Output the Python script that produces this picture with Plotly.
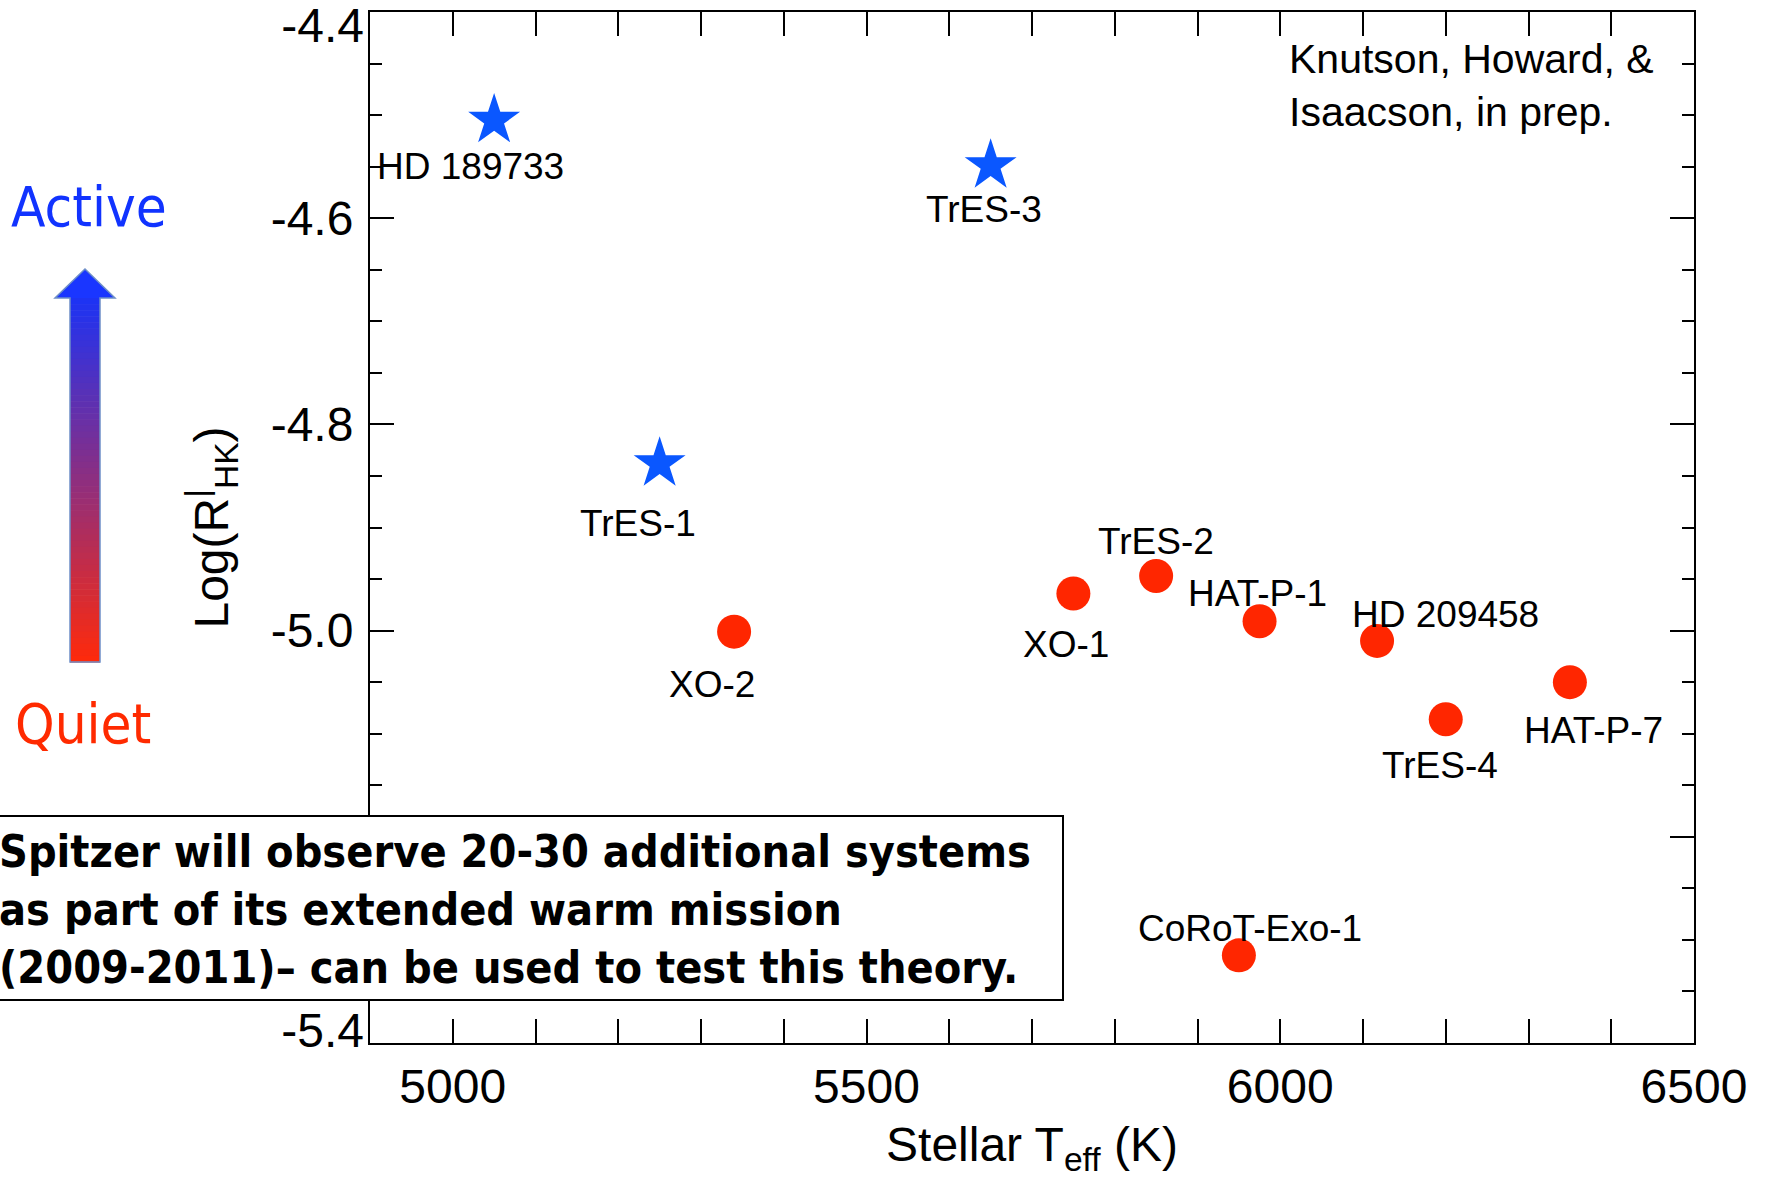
import plotly.graph_objects as go

# ---------------- data ----------------
active_names = ["HD 189733", "TrES-3", "TrES-1"]
active_teff = [5050, 5650, 5250]
active_logrhk = [-4.505, -4.549, -4.838]

quiet_names = ["XO-2", "XO-1", "TrES-2", "HAT-P-1", "HD 209458", "TrES-4", "HAT-P-7", "CoRoT-Exo-1"]
quiet_teff = [5340, 5750, 5850, 5975, 6117, 6200, 6350, 5950]
quiet_logrhk = [-5.001, -4.964, -4.947, -4.991, -5.010, -5.086, -5.050, -5.315]

x_range = [4900, 6500]
y_range = [-5.4, -4.4]
x_tickvals = [5000, 5500, 6000, 6500]
x_ticktext = ["5000", "5500", "6000", "6500"]
y_tickvals = [-5.4, -5.2, -5.0, -4.8, -4.6, -4.4]
# the -5.2 label sits under the text box in the original, so it is not shown
y_ticktext = ["-5.4", "", "-5.0", "-4.8", "-4.6", "-4.4"]

credit_text = "Knutson, Howard, &<br>Isaacson, in prep."
box_lines = ["Spitzer will observe 20-30 additional systems",
             "as part of its extended warm mission",
             "(2009-2011)– can be used to test this theory."]

# label offsets in pixels (dx right, dy down) relative to each point
label_offsets = {
    "HD 189733": (-24, 46), "TrES-3": (-7, 44), "TrES-1": (-22, 60),
    "XO-2": (-22, 53), "XO-1": (-7, 51), "TrES-2": (0, -34),
    "HAT-P-1": (-2, -28), "HD 209458": (68, -26), "TrES-4": (-6, 46),
    "HAT-P-7": (24, 48), "CoRoT-Exo-1": (11, -27),
}

# ---------------- layout geometry ----------------
W, H = 1765, 1192
L, R, T, B = 370, 1694, 12, 1043  # plot area in px


def px(xp):
    return (xp - L) / (R - L)


def py(yp):
    return (B - yp) / (B - T)


LABEL_FONT = "Liberation Sans, Arial, sans-serif"
TAHOMA_LIKE = "DejaVu Sans Condensed, DejaVu Sans"

fig = go.Figure()
fig.add_trace(go.Scatter(
    x=active_teff, y=active_logrhk, mode="markers", yaxis="y2",
    marker=dict(symbol="star", size=39, color="#0A57FF", line=dict(width=0)),
    hoverinfo="skip", showlegend=False, cliponaxis=False))
fig.add_trace(go.Scatter(
    x=quiet_teff, y=quiet_logrhk, mode="markers", yaxis="y3",
    marker=dict(symbol="circle", size=34, color="#FF2600", line=dict(width=0)),
    hoverinfo="skip", showlegend=False, cliponaxis=False))

annotations = []
for names, xs, ys in [(active_names, active_teff, active_logrhk),
                      (quiet_names, quiet_teff, quiet_logrhk)]:
    for n, xv, yv in zip(names, xs, ys):
        dx, dy = label_offsets[n]
        annotations.append(dict(
            x=xv, y=yv, xref="x", yref="y", text=n, showarrow=False,
            xshift=dx, yshift=-dy, xanchor="center", yanchor="middle",
            font=dict(family=LABEL_FONT, size=37, color="black")))

annotations.append(dict(
    x=px(1287), y=py(86), xref="paper", yref="paper", text=credit_text,
    showarrow=False, xanchor="left", yanchor="middle", align="left",
    font=dict(family=LABEL_FONT, size=41, color="black")))

annotations.append(dict(
    x=px(-3), y=py(910), xref="paper", yref="paper",
    text="<br>".join("<b>%s</b>" % s for s in box_lines),
    showarrow=False, xanchor="left", yanchor="middle", align="left",
    font=dict(family=TAHOMA_LIKE, size=44.6, color="black")))

annotations.append(dict(
    x=px(89), y=py(207), xref="paper", yref="paper", text="Active",
    showarrow=False, xanchor="center", yanchor="middle",
    font=dict(family=TAHOMA_LIKE, size=56, color="#1133FF")))
annotations.append(dict(
    x=px(83), y=py(723), xref="paper", yref="paper", text="Quiet",
    showarrow=False, xanchor="center", yanchor="middle",
    font=dict(family=TAHOMA_LIKE, size=56, color="#FF2A00")))

shapes = []
# gradient arrow shaft
shaft_x0, shaft_x1 = 70, 100
shaft_top, shaft_bot = 298, 662
top_rgb = (28, 51, 245)
bot_rgb = (255, 42, 10)
N = 60
for i in range(N):
    t = (i + 0.5) / N
    c = tuple(int(round(top_rgb[k] + (bot_rgb[k] - top_rgb[k]) * t)) for k in range(3))
    y0 = shaft_top + (shaft_bot - shaft_top) * i / N
    y1 = shaft_top + (shaft_bot - shaft_top) * (i + 1) / N + 0.6
    shapes.append(dict(type="rect", xref="paper", yref="paper",
                       x0=px(shaft_x0), x1=px(shaft_x1), y0=py(y1), y1=py(y0),
                       fillcolor="rgb(%d,%d,%d)" % c, line=dict(width=0), layer="above"))
# arrow head
head = "M %f %f L %f %f L %f %f Z" % (px(85), py(269), px(55), py(298), px(115), py(298))
shapes.append(dict(type="path", xref="paper", yref="paper", path=head,
                   fillcolor="#1A36FF", line=dict(width=0), layer="above"))
outline = ("M %f %f L %f %f L %f %f L %f %f L %f %f L %f %f L %f %f Z" % (
    px(85), py(269), px(115), py(298), px(100), py(298), px(100), py(662),
    px(70), py(662), px(70), py(298), px(55), py(298)))
shapes.append(dict(type="path", xref="paper", yref="paper", path=outline,
                   fillcolor="rgba(0,0,0,0)", line=dict(width=1.5, color="#6E8FC8"), layer="above"))

# text box
shapes.append(dict(type="rect", xref="paper", yref="paper",
                   x0=px(-10), x1=px(1063), y0=py(1000), y1=py(816),
                   fillcolor="white", line=dict(width=2, color="black"), layer="above"))

TICKFONT = dict(family=LABEL_FONT, size=48, color="black")
axis_common = dict(
    showline=True, linewidth=2, linecolor="black", mirror="allticks",
    ticks="inside", ticklen=24, tickwidth=2, tickcolor="black",
    showgrid=False, zeroline=False, tickfont=TICKFONT, automargin=False,
)

# inner labels on the main axis; end labels (-4.4, -5.4) are nudged inward on
# overlaid copies of the same axis, as in the original figure
inner_text = [t if v not in (y_range[0], y_range[1]) else "" for v, t in zip(y_tickvals, y_ticktext)]
top_text = [t if v == y_range[1] else "" for v, t in zip(y_tickvals, y_ticktext)]
bot_text = [t if v == y_range[0] else "" for v, t in zip(y_tickvals, y_ticktext)]

fig.update_layout(
    xaxis=dict(
        range=x_range, tickmode="array", tickvals=x_tickvals, ticktext=x_ticktext,
        minor=dict(dtick=100, tick0=5000, ticks="inside", ticklen=12, tickwidth=2,
                   tickcolor="black", showgrid=False),
        title=dict(text="Stellar T<sub>eff</sub> (K)",
                   font=dict(family=LABEL_FONT, size=48, color="black"), standoff=16),
        **axis_common),
    yaxis=dict(
        range=y_range, tickmode="array", tickvals=y_tickvals, ticktext=inner_text,
        ticklabelstandoff=5,
        minor=dict(dtick=0.05, tick0=-5.4, ticks="inside", ticklen=12, tickwidth=2,
                   tickcolor="black", showgrid=False),
        title=dict(text="Log(R<sup>|</sup><sub>HK</sub>)",
                   font=dict(family=LABEL_FONT, size=48, color="black"), standoff=27),
        **axis_common),
    yaxis2=dict(
        overlaying="y", side="left", range=y_range, tickmode="array",
        tickvals=y_tickvals, ticktext=top_text, ticks="", showline=False,
        showgrid=False, zeroline=False, tickfont=TICKFONT, automargin=False,
        ticklabelstandoff=5, ticklabelshift=13, ticklabeloverflow="allow"),
    yaxis3=dict(
        overlaying="y", side="left", range=y_range, tickmode="array",
        tickvals=y_tickvals, ticktext=bot_text, ticks="", showline=False,
        showgrid=False, zeroline=False, tickfont=TICKFONT, automargin=False,
        ticklabelstandoff=5, ticklabelshift=-13, ticklabeloverflow="allow"),
    width=W, height=H,
    margin=dict(l=L, r=W - R, t=T, b=H - B, pad=0),
    paper_bgcolor="white", plot_bgcolor="white",
    showlegend=False,
    annotations=annotations, shapes=shapes,
)

fig.write_html("out.html")
